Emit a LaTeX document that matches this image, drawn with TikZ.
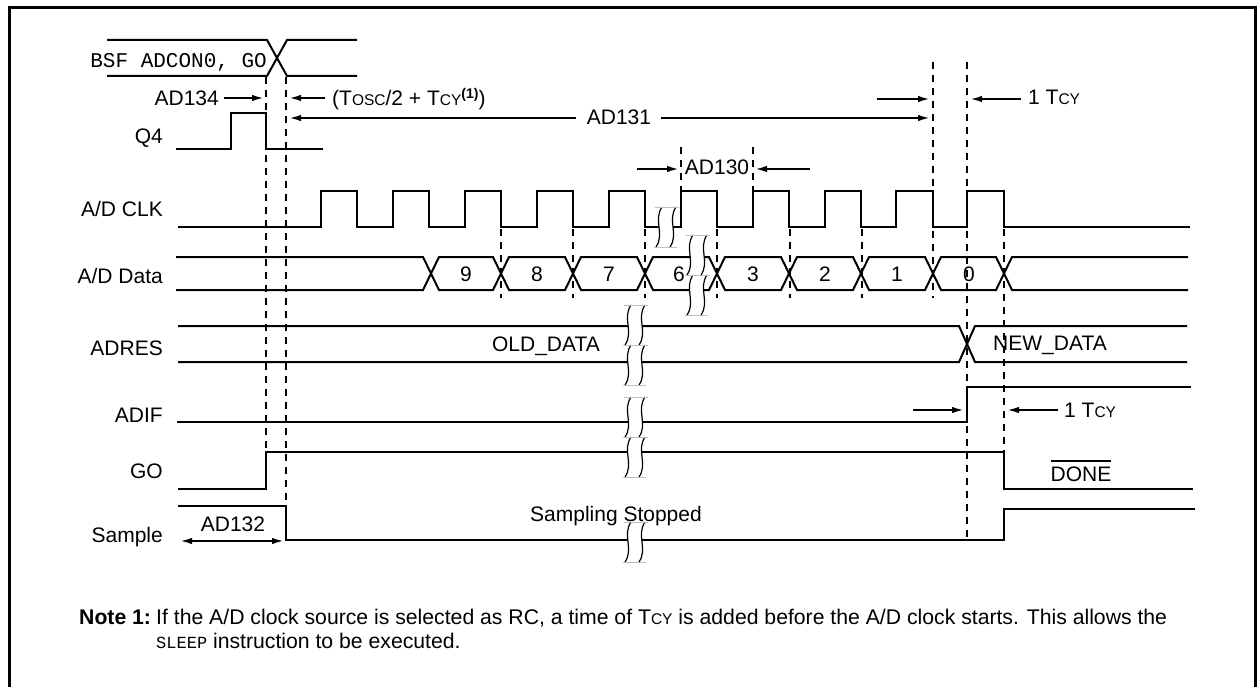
\documentclass[tikz,border=0pt]{standalone}
\usepackage{fontspec}
\setmainfont{Liberation Sans}
\setmonofont{Liberation Mono}
\usetikzlibrary{arrows.meta}
\newcommand{\sca}[1]{{\fontsize{15.5}{18}\selectfont #1}}
\newcommand{\scb}[1]{{\fontsize{15.5}{18}\selectfont #1}}
\begin{document}
\begin{tikzpicture}[x=1pt,y=-1pt,
  sig/.style={line width=2pt, line join=miter},
  dsh/.style={line width=2pt, dash pattern=on 7pt off 6pt},
  arr/.style={line width=2pt, -{Latex[length=12pt,width=6.5pt]}},
  darr/.style={line width=2pt, {Latex[length=12pt,width=6.5pt]}-{Latex[length=12pt,width=6.5pt]}},
  lbl/.style={font=\fontsize{21}{25}\selectfont, inner sep=0pt},
  note/.style={font=\fontsize{21.2}{25}\selectfont, inner sep=0pt},
  brk/.pic={
    \fill[white] (3,0) .. controls (-6,13) and (6,27) .. (-3,40) -- (11,40) .. controls (20,27) and (8,13) .. (17,0) -- cycle;
    \draw[line width=1.2pt] (3,0) .. controls (-6,13) and (6,27) .. (-3,40);
    \draw[line width=1.2pt] (17,0) .. controls (8,13) and (20,27) .. (11,40);
    \draw[black!25, line width=1pt] (-4,0) -- (20,0) (-5,40) -- (18,40);
  }]
\useasboundingbox (0,0) rectangle (1257,687);
% frame
\draw[line width=2.5pt] (9.5,700) -- (9.5,7.5) -- (1255.5,7.5) -- (1255.5,700);

% signal labels
\node[lbl, anchor=base east] (lq4) at (163,144) {Q4};
\node[lbl, anchor=base east] (lclk) at (163,216) {A/D CLK};
\node[lbl, anchor=base east] (ldata) at (163,283) {A/D Data};
\node[lbl, anchor=base east] (ladres) at (163,355) {ADRES};
\node[lbl, anchor=base east] (ladif) at (163,422) {ADIF};
\node[lbl, anchor=base east] (lgo) at (163,478) {GO};
\node[lbl, anchor=base east] (lsample) at (163,542) {Sample};

% BSF bus
\node[lbl, anchor=base east, font=\fontsize{21}{25}\selectfont\ttfamily] (bsf) at (267,68) {BSF ADCON0, GO};
\draw[sig] (107,40) -- (267,40) -- (277,58) -- (267,76) -- (107,76);
\draw[sig] (357,40) -- (287,40) -- (277,58) -- (287,76) -- (357,76);

% Q4
\draw[sig] (176,149) -- (231,149) -- (231,113) -- (266,113) -- (266,149) -- (323,149);

% timing annotations at top
\node[lbl, anchor=base east] (ad134) at (219,106) {AD134};
\draw[arr] (224,98) -- (264,98);
\draw[arr] (325,98) -- (289,98);
\node[lbl, anchor=base west] (tosc) at (332,106) {(T\sca{OSC}/2 + T\sca{CY}\raisebox{7pt}{\fontsize{14}{16}\selectfont\bfseries (1)})};
\node[lbl, anchor=base] (ad131) at (619,125) {AD131};
\draw[arr] (576,118) -- (289,118);
\draw[arr] (661,118) -- (930,118);
\draw[arr] (877,99) -- (930,99);
\draw[arr] (1021,99) -- (970,99);
\node[lbl, anchor=base west] (tcya) at (1028,105) {1 T\sca{CY}};
\node[lbl, anchor=base] (ad130) at (717,175) {AD130};
\draw[arr] (637,169) -- (679,169);
\draw[arr] (810,169) -- (755,169);

% A/D CLK
\draw[sig] (178,227) -- (321,227) -- (321,191) -- (357,191) -- (357,227) -- (393,227) -- (393,191) -- (429,191) -- (429,227) -- (465,227) -- (465,191) -- (501,191) -- (501,227) -- (537,227) -- (537,191) -- (573,191) -- (573,227) -- (609,227) -- (609,191) -- (645,191) -- (645,227) -- (681,227) -- (681,191) -- (717,191) -- (717,227) -- (753,227) -- (753,191) -- (789,191) -- (789,227) -- (825,227) -- (825,191) -- (861,191) -- (861,227) -- (896,227) -- (896,191) -- (933,191) -- (933,227) -- (967,227) -- (967,191) -- (1004,191) -- (1004,227) -- (1190,227);

% A/D Data
\draw[sig] (176,257) -- (423,257) -- (431,273.5) -- (423,290) -- (176,290);
\foreach \a/\b in {431/501,501/573,573/645,645/717,717/789,789/861,861/933,933/1004}{
  \draw[sig] (\a,273.5) -- (\a+8,257) -- (\b-8,257) -- (\b,273.5) -- (\b-8,290) -- (\a+8,290) -- cycle;
}
\draw[sig] (1188,257) -- (1012,257) -- (1004,273.5) -- (1012,290) -- (1188,290);
\foreach \x/\t [count=\i] in {466/9,537/8,609/7,679/6,753/3,825/2,897/1,969/0}{
  \node[lbl, anchor=base] (d\i) at (\x,281) {\t};
}

% ADRES
\draw[sig] (178,326) -- (959,326) -- (967,344) -- (959,362) -- (178,362);
\draw[sig] (1187,326) -- (975,326) -- (967,344) -- (975,362) -- (1187,362);
\node[lbl, anchor=base] (old) at (546,351) {OLD\_DATA};
\node[lbl, anchor=base] (new) at (1050,350) {NEW\_DATA};

% ADIF
\draw[sig] (177,422) -- (967,422) -- (967,387) -- (1191,387);
\draw[arr] (913,410) -- (964,410);
\draw[arr] (1058,410) -- (1007,410);
\node[lbl, anchor=base west] (tcyb) at (1064,417) {1 T\sca{CY}};

% GO
\draw[sig] (178,489) -- (266,489) -- (266,452) -- (1004,452) -- (1004,489) -- (1193,489);
\node[lbl, anchor=base] (done) at (1081,481) {DONE};
\draw[line width=1.6pt] (1051,461) -- (1111,461);

% Sample
\draw[sig] (178,506) -- (286,506) -- (286,540) -- (1004,540) -- (1004,509) -- (1195,509);
\draw[darr] (180,541) -- (284,541);
\node[lbl, anchor=base] (ad132) at (233,531) {AD132};
\node[lbl, anchor=base] (stop) at (616,521) {Sampling Stopped};

% break symbols
\pic at (659,207) {brk};
\pic at (690,235) {brk};
\pic at (690,275) {brk};
\pic at (628,305) {brk};
\pic at (628,345) {brk};
\pic at (628,397) {brk};
\pic at (628,437) {brk};
\pic at (628,522) {brk};

% dashed guide lines
\draw[dsh] (266,77) -- (266,452);
\draw[dsh] (286,77) -- (286,506);
\foreach \x in {501,573,645,717,790,862}{
  \draw[dsh] (\x,229) -- (\x,298);
}
\draw[dsh] (681,147) -- (681,190);
\draw[dsh] (753,147) -- (753,190);
\draw[dsh] (933,62) -- (933,298);
\draw[dsh] (967,62) -- (967,540);
\draw[dsh] (1004,229) -- (1004,452);

% note
\node[note, anchor=base west, font=\fontsize{21.2}{25}\selectfont\bfseries] (n1) at (79,624) {Note 1:};
\node[note, anchor=base west] (n2) at (156,624) {If the A/D clock source is selected as RC, a time of T\scb{CY} is added before the A/D clock starts. This allows the};
\node[note, anchor=base west] (n3) at (156,648) {{\fontsize{17}{20}\selectfont\ttfamily SLEEP} instruction to be executed.};
\end{tikzpicture}
\end{document}
